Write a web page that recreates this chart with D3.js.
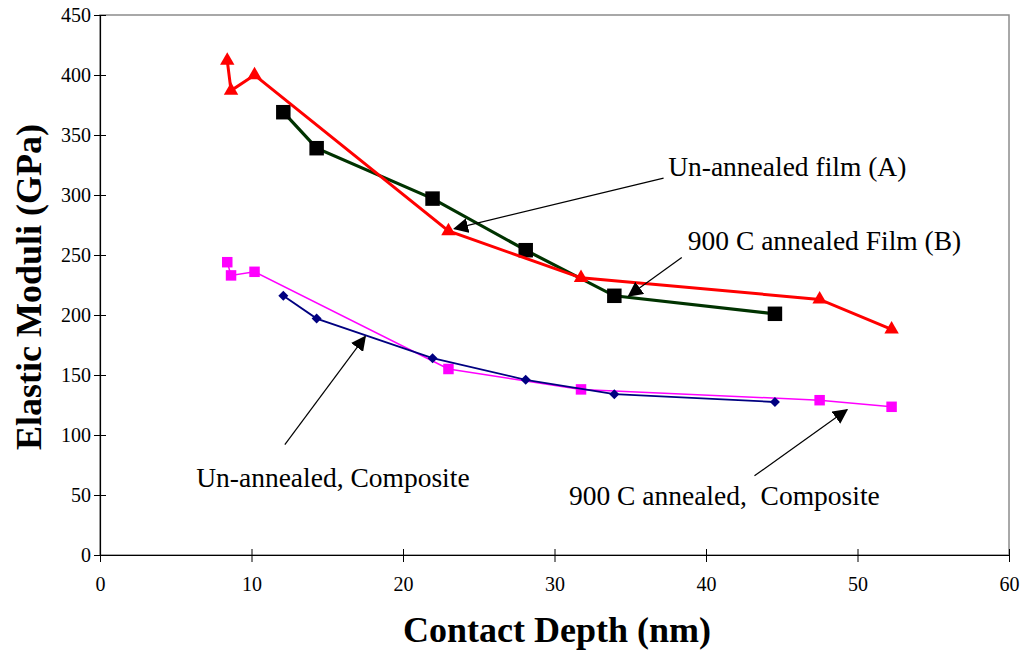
<!DOCTYPE html>
<html>
<head>
<meta charset="utf-8">
<script src="https://cdn.jsdelivr.net/npm/d3@7"></script>
<style>
  body { margin: 0; background: #fff; }
</style>
</head>
<body>
<svg id="chart" width="1025" height="654"></svg>
<script>
// contact depth (nm) / modulus (GPa)
const filmA_x = [8.4, 8.65, 10.2, 23.0, 31.75, 47.5, 52.25];
const filmA_y = [412, 387, 400, 270, 231, 213, 188];
const filmB_x = [12.1, 14.3, 21.95, 28.1, 33.95, 44.55];
const filmB_y = [369, 339, 297, 254, 216, 201];
const compA_x = [8.4, 8.65, 10.2, 23.0, 31.75, 47.5, 52.25];
const compA_y = [244, 233, 236, 155, 138, 129, 123.5];
const compB_x = [12.1, 14.3, 21.95, 28.1, 33.95, 44.55];
const compB_y = [216, 197, 164, 146, 134, 127.5];

const xTicks = [0, 10, 20, 30, 40, 50, 60];
const yTicks = [0, 50, 100, 150, 200, 250, 300, 350, 400, 450];

const labels = [
  { text: 'Un-annealed film (A)', tx: 37.5, ty: 316, from: [37.2, 314], to: [23.4, 272] },
  { text: '900 C annealed Film (B)', tx: 38.8, ty: 254, from: [38.4, 248], to: [34.9, 216] },
  { text: 'Un-annealed, Composite', tx: 6.35, ty: 57, from: [12.2, 92], to: [17.5, 182] },
  { text: '900 C annealed,  Composite', tx: 30.95, ty: 41.5, from: [43.2, 66], to: [49.3, 121] }
];

const SERIF = '"Liberation Serif", "Times New Roman", Times, serif';

const svg = d3.select('#chart');
const x = d3.scaleLinear().domain([0, 60]).range([100, 1009]);
const y = d3.scaleLinear().domain([0, 450]).range([555, 15]);

// plot frame (grey top / right)
svg.append('rect')
  .attr('x', x(0)).attr('y', y(450))
  .attr('width', x(60) - x(0)).attr('height', y(0) - y(450))
  .attr('fill', 'none').attr('stroke', '#8c8c8c').attr('stroke-width', 1.5);

// Axes
const xAxis = svg.append('g').attr('transform', `translate(0,${y(0)})`)
  .call(d3.axisBottom(x).tickValues(xTicks).tickSize(0).tickPadding(22));
xAxis.selectAll('.tick line').remove();
xAxis.selectAll('.tick').append('line').attr('y1', -6).attr('y2', 7).attr('stroke', '#000');
xAxis.select('.domain').attr('stroke', '#000').attr('stroke-width', 1.2);

const yAxis = svg.append('g').attr('transform', `translate(${x(0)},0)`)
  .call(d3.axisLeft(y).tickValues(yTicks).tickSize(0).tickPadding(9));
yAxis.selectAll('.tick line').remove();
yAxis.selectAll('.tick').append('line').attr('x1', -6).attr('x2', 6).attr('stroke', '#000');
yAxis.select('.domain').attr('stroke', '#000').attr('stroke-width', 1.2);

svg.selectAll('g').attr('font-family', SERIF);
svg.selectAll('.tick text').attr('font-size', 20).attr('fill', '#000')
  .style('font-family', SERIF);

// Axis titles
svg.append('text').attr('x', 557).attr('y', 642).attr('text-anchor', 'middle')
  .style('font-family', SERIF)
  .attr('font-size', 36).attr('font-weight', 'bold').text('Contact Depth (nm)');
svg.append('text').attr('transform', 'translate(41,287) rotate(-90)').attr('text-anchor', 'middle')
  .style('font-family', SERIF)
  .attr('font-size', 36).attr('font-weight', 'bold').text('Elastic Moduli (GPa)');

const line = d3.line().x(d => x(d[0])).y(d => y(d[1]));
const pts = (xs, ys) => xs.map((v, i) => [v, ys[i]]);

function series(xs, ys, color, width, symbol, size, fill, rot = 0) {
  const data = pts(xs, ys);
  svg.append('path').datum(data).attr('d', line)
    .attr('fill', 'none').attr('stroke', color).attr('stroke-width', width);
  svg.append('g').selectAll('path').data(data).join('path')
    .attr('transform', d => `translate(${x(d[0])},${y(d[1])}) rotate(${rot})`)
    .attr('d', d3.symbol(symbol, size))
    .attr('fill', fill);
}

series(compA_x, compA_y, '#ff00ff', 1.5, d3.symbolSquare, 110, '#ff00ff');
series(compB_x, compB_y, '#000080', 1.8, d3.symbolSquare, 50, '#000080', 45);
series(filmB_x, filmB_y, '#003300', 3.2, d3.symbolSquare, 210, '#000');
series(filmA_x, filmA_y, '#ff0000', 3, d3.symbolTriangle, 90, '#ff0000');

// Annotations with arrows
svg.append('defs').append('marker').attr('id', 'arr')
  .attr('viewBox', '0 0 10 10').attr('refX', 9).attr('refY', 5)
  .attr('markerWidth', 15).attr('markerHeight', 15).attr('markerUnits', 'userSpaceOnUse')
  .attr('orient', 'auto')
  .append('path').attr('d', 'M0,0 L10,5 L0,10 Z').attr('fill', '#000');

labels.forEach(l => {
  svg.append('line')
    .attr('x1', x(l.from[0])).attr('y1', y(l.from[1]))
    .attr('x2', x(l.to[0])).attr('y2', y(l.to[1]))
    .attr('stroke', '#000').attr('stroke-width', 1.2).attr('marker-end', 'url(#arr)');
  svg.append('text').attr('x', x(l.tx)).attr('y', y(l.ty))
    .style('font-family', SERIF)
    .attr('font-size', 27.5).attr('fill', '#000').style('white-space', 'pre')
    .text(l.text);
});
</script>
</body>
</html>
